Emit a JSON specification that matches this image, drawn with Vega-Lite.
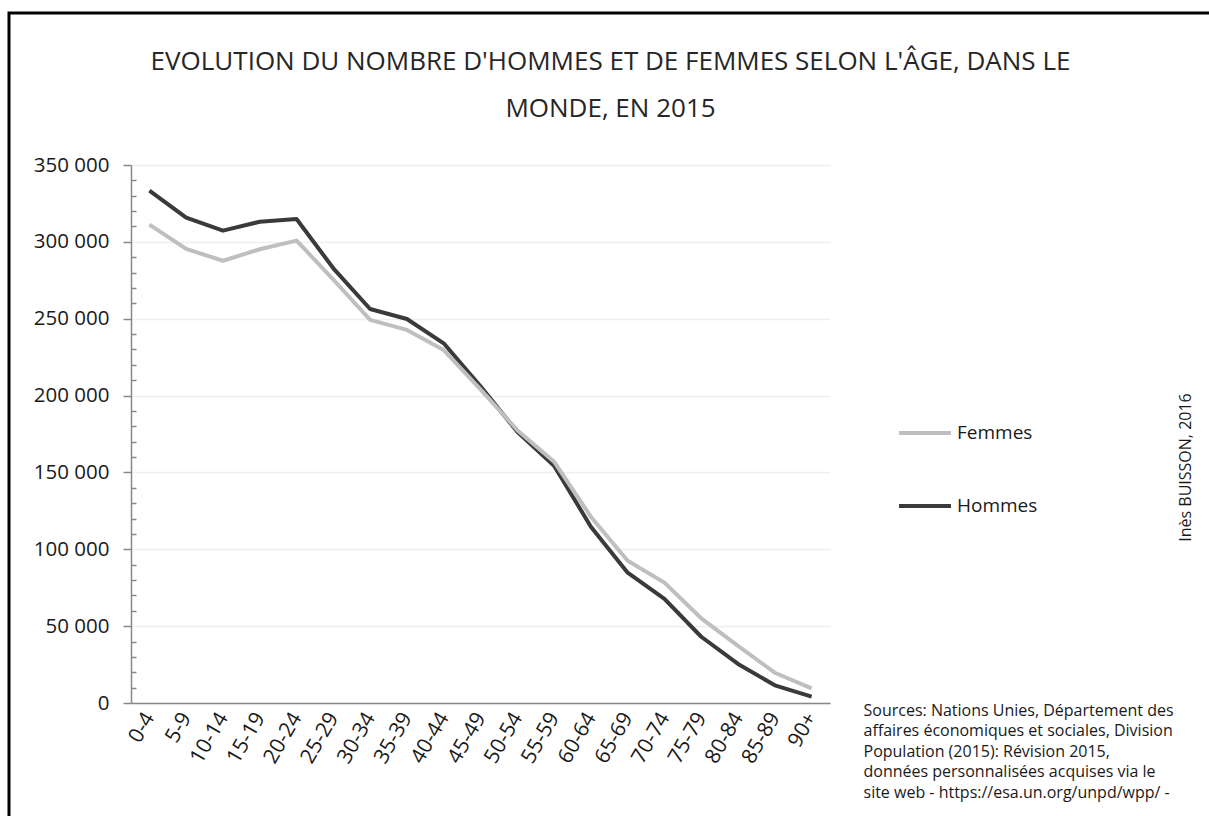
{
  "$schema": "https://vega.github.io/schema/vega-lite/v6.json",
  "width": 699,
  "height": 538,
  "autosize": {"type": "none"},
  "padding": {"left": 131, "top": 165, "right": 379, "bottom": 113},
  "background": "white",
  "title": {
    "text": ["EVOLUTION DU NOMBRE D'HOMMES ET DE FEMMES SELON L'ÂGE, DANS LE", "MONDE, EN 2015"],
    "font": "Open Sans",
    "fontSize": 26,
    "fontWeight": "normal",
    "color": "#262626",
    "anchor": "middle",
    "frame": "group",
    "dx": 130,
    "lineHeight": 47,
    "offset": -110
  },
  "data": {
    "values": [
      {"age": "0-4", "sexe": "Hommes", "pop": 333300},
      {"age": "5-9", "sexe": "Hommes", "pop": 315700},
      {"age": "10-14", "sexe": "Hommes", "pop": 307300},
      {"age": "15-19", "sexe": "Hommes", "pop": 313100},
      {"age": "20-24", "sexe": "Hommes", "pop": 314900},
      {"age": "25-29", "sexe": "Hommes", "pop": 282800},
      {"age": "30-34", "sexe": "Hommes", "pop": 256300},
      {"age": "35-39", "sexe": "Hommes", "pop": 249800},
      {"age": "40-44", "sexe": "Hommes", "pop": 234000},
      {"age": "45-49", "sexe": "Hommes", "pop": 206000},
      {"age": "50-54", "sexe": "Hommes", "pop": 176500},
      {"age": "55-59", "sexe": "Hommes", "pop": 154400},
      {"age": "60-64", "sexe": "Hommes", "pop": 114700},
      {"age": "65-69", "sexe": "Hommes", "pop": 84800},
      {"age": "70-74", "sexe": "Hommes", "pop": 67700},
      {"age": "75-79", "sexe": "Hommes", "pop": 43100},
      {"age": "80-84", "sexe": "Hommes", "pop": 25400},
      {"age": "85-89", "sexe": "Hommes", "pop": 11500},
      {"age": "90+", "sexe": "Hommes", "pop": 4100},
      {"age": "0-4", "sexe": "Femmes", "pop": 311200},
      {"age": "5-9", "sexe": "Femmes", "pop": 295400},
      {"age": "10-14", "sexe": "Femmes", "pop": 287700},
      {"age": "15-19", "sexe": "Femmes", "pop": 295200},
      {"age": "20-24", "sexe": "Femmes", "pop": 300800},
      {"age": "25-29", "sexe": "Femmes", "pop": 275500},
      {"age": "30-34", "sexe": "Femmes", "pop": 249200},
      {"age": "35-39", "sexe": "Femmes", "pop": 242700},
      {"age": "40-44", "sexe": "Femmes", "pop": 229600},
      {"age": "45-49", "sexe": "Femmes", "pop": 204000},
      {"age": "50-54", "sexe": "Femmes", "pop": 177500},
      {"age": "55-59", "sexe": "Femmes", "pop": 157000},
      {"age": "60-64", "sexe": "Femmes", "pop": 121200},
      {"age": "65-69", "sexe": "Femmes", "pop": 92600},
      {"age": "70-74", "sexe": "Femmes", "pop": 78300},
      {"age": "75-79", "sexe": "Femmes", "pop": 55100},
      {"age": "80-84", "sexe": "Femmes", "pop": 37100},
      {"age": "85-89", "sexe": "Femmes", "pop": 19700},
      {"age": "90+", "sexe": "Femmes", "pop": 9500}
    ]
  },
  "encoding": {
    "x": {
      "field": "age",
      "type": "ordinal",
      "sort": null,
      "scale": {"type": "point", "padding": 0.5},
      "axis": {
        "title": ["Sources: Nations Unies, Département des", "affaires économiques et sociales, Division", "Population (2015): Révision 2015,", "données personnalisées acquises via le", "site web - https://esa.un.org/unpd/wpp/ -"],
        "titleFont": "Open Sans",
        "titleFontSize": 16,
        "titleFontWeight": "normal",
        "titleColor": "#1a1a1a",
        "titleX": 732,
        "titleY": -1,
        "titleAlign": "left",
        "titleBaseline": "top",
        "titleLineHeight": 20.5,
        "labelAngle": -60,
        "labelFont": "Open Sans",
        "labelFontSize": 21,
        "labelColor": "#1a1a1a",
        "labelPadding": 11,
        "ticks": false,
        "grid": false,
        "domainColor": "#888888",
        "domainWidth": 1.5
      }
    },
    "y": {
      "field": "pop",
      "type": "quantitative",
      "scale": {"domain": [0, 350000], "nice": false, "zero": true},
      "axis": {
        "title": null,
        "values": [0, 10000, 20000, 30000, 40000, 50000, 60000, 70000, 80000, 90000, 100000, 110000, 120000, 130000, 140000, 150000, 160000, 170000, 180000, 190000, 200000, 210000, 220000, 230000, 240000, 250000, 260000, 270000, 280000, 290000, 300000, 310000, 320000, 330000, 340000, 350000],
        "labelExpr": "datum.value % 50000 === 0 ? replace(format(datum.value, ','), ',', ' ') : ''",
        "labelFont": "Open Sans",
        "labelFontSize": 20.5,
        "labelColor": "#1a1a1a",
        "labelPadding": 14,
        "tickSize": {"condition": {"test": "datum.value % 50000 === 0", "value": 8}, "value": -5},
        "tickColor": "#888888",
        "tickWidth": 1.5,
        "domainColor": "#888888",
        "domainWidth": 1.5,
        "gridColor": "#eeeeee",
        "gridWidth": 1.5,
        "gridOpacity": {"condition": {"test": "datum.value % 50000 === 0", "value": 1}, "value": 0}
      }
    }
  },
  "layer": [
    {
      "mark": {"type": "line", "strokeWidth": 4, "strokeJoin": "round"},
      "encoding": {
        "color": {
          "field": "sexe",
          "type": "nominal",
          "scale": {"domain": ["Femmes", "Hommes"], "range": ["#bfbfbf", "#3a3a3a"]},
          "legend": {
            "title": null,
            "orient": "none",
            "legendX": 766,
            "legendY": 240,
            "symbolType": "stroke",
            "symbolSize": 2700,
            "symbolStrokeWidth": 4,
            "labelFont": "Open Sans",
            "labelFontSize": 19,
            "labelColor": "#1a1a1a",
            "labelOffset": 4,
            "rowPadding": 35
          }
        }
      }
    },
    {
      "mark": {"type": "line", "strokeOpacity": 0},
      "encoding": {
        "strokeDash": {
          "field": "sexe",
          "type": "nominal",
          "legend": {
            "title": null,
            "orient": "none",
            "legendX": -122,
            "legendY": -152,
            "padding": 1600,
            "strokeColor": "#000000",
            "labelExpr": "''",
            "symbolOpacity": 0
          }
        },
        "y": {
          "field": "pop",
          "type": "quantitative",
          "axis": {
            "orient": "right",
            "title": "Inès BUISSON, 2016",
            "titleFont": "Open Sans",
            "titleFontSize": 16,
            "titleFontWeight": "normal",
            "titleColor": "#1a1a1a",
            "titleAngle": 270,
            "titleX": 355,
            "titleY": 302,
            "titleAlign": "center",
            "titleBaseline": "middle",
            "labels": false,
            "ticks": false,
            "domain": false,
            "grid": false
          }
        }
      }
    }
  ],
  "resolve": {"axis": {"y": "independent"}},
  "config": {"view": {"stroke": null}, "legend": {"strokeWidth": 3}}
}
